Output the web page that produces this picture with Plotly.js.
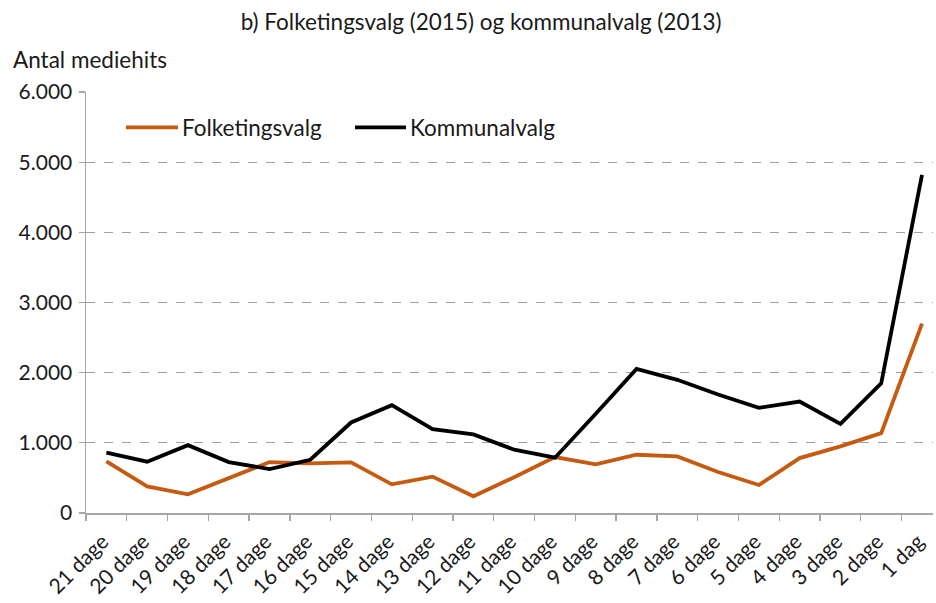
<!DOCTYPE html>
<html>
<head>
<meta charset="utf-8">
<script src="https://cdn.plot.ly/plotly-3.0.1.min.js"></script>
<style>
html,body{margin:0;padding:0;background:#fff;overflow:hidden;}
#chart{width:936px;height:603px;}
</style>
</head>
<body>
<div id="chart"></div>
<script>
const categories = ['21 dage','20 dage','19 dage','18 dage','17 dage','16 dage','15 dage','14 dage','13 dage','12 dage','11 dage','10 dage','9 dage','8 dage','7 dage','6 dage','5 dage','4 dage','3 dage','2 dage','1 dag'];
const folketingsvalg = [735, 380, 266, 500, 726, 707, 721, 408, 518, 238, 510, 797, 693, 830, 806, 584, 399, 783, 949, 1138, 2698];
const kommunalvalg = [859, 731, 967, 726, 626, 759, 1290, 1536, 1195, 1120, 902, 788, 1414, 2054, 1898, 1688, 1499, 1589, 1271, 1849, 4818];
const seriesNames = ['Folketingsvalg', 'Kommunalvalg'];
const seriesColors = ['#C55A11', '#000000'];
const yTickVals = [0, 1000, 2000, 3000, 4000, 5000, 6000];
const yTickText = ['0', '1.000', '2.000', '3.000', '4.000', '5.000', '6.000'];

const FONT = 'Lato, "Open Sans", sans-serif';
const TXT = '#1a1a1a';
const traces = [
  {x: categories, y: folketingsvalg, type: 'scatter', mode: 'lines', name: seriesNames[0],
   line: {color: seriesColors[0], width: 3.8}},
  {x: categories, y: kommunalvalg, type: 'scatter', mode: 'lines', name: seriesNames[1],
   line: {color: seriesColors[1], width: 3.8}}
];

// legend drawn as line samples + labels (paper coordinates)
const legendY = 0.916;
const legendItems = [
  {x0: 0.0472, x1: 0.1086, tx: 0.1110},
  {x0: 0.3176, x1: 0.3778, tx: 0.3800}
];
const shapes = legendItems.map((it, i) => ({
  type: 'line', xref: 'paper', yref: 'paper', x0: it.x0, x1: it.x1, y0: legendY, y1: legendY,
  line: {color: seriesColors[i], width: 3.8}
}));
const annotations = legendItems.map((it, i) => ({
  text: seriesNames[i], xref: 'paper', yref: 'paper', x: it.tx, y: legendY, xanchor: 'left', yanchor: 'middle',
  showarrow: false, font: {family: FONT, size: 22.5, color: TXT}
}));
annotations.push({text: 'Antal mediehits', xref: 'paper', yref: 'paper', x: -0.0885, y: 1.077,
  xanchor: 'left', yanchor: 'middle', showarrow: false, font: {family: FONT, size: 22.5, color: TXT}});

const layout = {
  width: 936, height: 603,
  paper_bgcolor: '#fff', plot_bgcolor: '#fff',
  margin: {l: 86, r: 3, t: 92, b: 90},
  font: {family: FONT, size: 20, color: TXT},
  title: {text: 'b) Folketingsvalg (2015) og kommunalvalg (2013)', x: 0.514, xref: 'container', xanchor: 'center',
          y: 0.963, yref: 'container', yanchor: 'middle', font: {family: FONT, size: 22.5, color: TXT}},
  showlegend: false,
  xaxis: {type: 'category', range: [-0.5, 20.27], tickson: 'boundaries', ticks: 'outside', ticklen: 6,
          tickcolor: '#a6a6a6', tickwidth: 1.3, showline: true, linecolor: '#a6a6a6', linewidth: 2,
          showgrid: false, tickangle: -45, tickfont: {family: FONT, size: 21, color: TXT},
          ticklabelstandoff: 6, ticklabelshift: -4, fixedrange: true},
  yaxis: {range: [0, 6000], tickvals: yTickVals, ticktext: yTickText, ticks: 'outside', ticklen: 6,
          tickcolor: '#a6a6a6', tickwidth: 1.3, showline: true, linecolor: '#a6a6a6', linewidth: 1.5,
          showgrid: true, gridcolor: '#a0a0a0', griddash: 'dash', gridwidth: 1, zeroline: false,
          tickfont: {family: FONT, size: 21, color: TXT}, ticklabelstandoff: 2, fixedrange: true},
  shapes: shapes,
  annotations: annotations
};
Plotly.newPlot('chart', traces, layout, {displayModeBar: false, staticPlot: true});
</script>
</body>
</html>
